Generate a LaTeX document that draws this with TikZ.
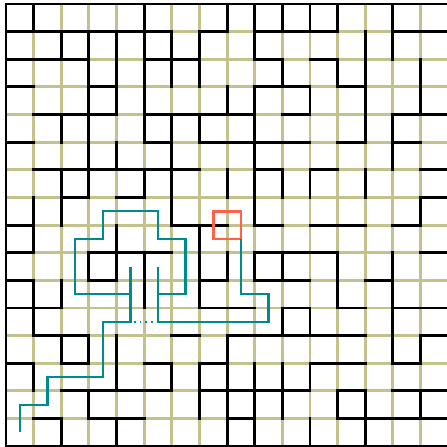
\documentclass[tikz,border=0pt]{standalone}
\usepackage{xcolor}
\usepackage{tikz}
\usetikzlibrary{calc}
\definecolor{gridkhaki}{RGB}{196,194,140}
\definecolor{routeteal}{RGB}{0,139,139}
\definecolor{goalred}{RGB}{255,99,71}

\begin{document}
\begin{tikzpicture}[x=1cm, y=1cm,
  gridline/.style={gridkhaki, line width=3pt},
  wall/.style={black, line width=3pt, line cap=rect},
  route/.style={routeteal, line width=2.4pt},
  goalbox/.style={goalred, line width=2.6pt}]
  \useasboundingbox (-0.217,-0.03) rectangle (15.94,16.145);
  % 底层网格
  \draw[gridline] (0,0) grid (16,16);
  \draw[wall] (0,0) rectangle (16,16);
  % 横墙：行号(自上而下) / 列
  \foreach \r/\cs in {1/{0,1,2,3,4,5,7,9,10,11,14,15},
                      2/{0,1,2,5,6,9,11},
                      3/{0,3,9,10,12},
                      4/{1,2,3,5,6,7,8,10,14,15},
                      5/{0,5,7,8,9,10,12,14},
                      6/{1,2,3,4,5,6,9,11,15},
                      7/{2,4,15},
                      8/{0,6,7,9,11,12,14},
                      9/{0,3,4,5,9,10,11,15},
                      10/{0,3,7,9,10,13},
                      11/{0,1,7,8,10,12,14,15},
                      12/{1,2,6,8,9,10,11,12,15},
                      13/{0,2,5,7,11,12,14},
                      14/{2,3,4,5,7,8,9,10,12,14,15},
                      15/{1,3,4,8,12,13,14,15}} {
    \foreach \c in \cs {
      \draw[wall] (\c,16-\r) -- (\c+1,16-\r);
    }
  }
  % 竖墙：列号 / 行(自上而下)
  \foreach \i/\rs in {1/{0,7,8,10,11,13},
                      2/{1,4,6,7,10,12,15},
                      3/{1,2,3,4,5,6,9,12,14},
                      4/{1,2,3,5,8,9,12,13,15},
                      5/{0,1,2,3,4,6,9,10},
                      6/{1,2,4,5,6,7,13},
                      7/{1,2,4,8,9,10,13,14},
                      8/{0,3,6,9,12,13,14,15},
                      9/{0,1,3,4,5,6,7,9,13,14,15},
                      10/{0,2,6,9,11,13,14},
                      11/{0,3,6,11,13,15},
                      12/{0,2,9,10,14},
                      13/{1,2,3,4,6,14,15},
                      14/{0,1,4,5,9,10,11,12},
                      15/{2,3,7,12,14}} {
    \foreach \r in \rs {
      \draw[wall] (\i,15-\r) -- (\i,16-\r);
    }
  }
  % 目标格
  \coordinate (goal) at (8,8);
  \draw[goalbox] ($(goal)+(-0.5,-0.5)$) rectangle ($(goal)+(0.5,0.5)$);
  % 搜索路径
  \draw[route] (8.5,7.5) -- (8.5,5.5) -- (9.5,5.5) -- (9.5,4.5)
               -- (5.5,4.5) -- (5.5,6.5);
  \draw[route] (5.5,5.5) -- (6.5,5.5) -- (6.5,7.5) -- (5.5,7.5)
               -- (5.5,8.5) -- (3.5,8.5) -- (3.5,7.5) -- (2.5,7.5)
               -- (2.5,5.5) -- (4.5,5.5) -- (4.5,6.5);
  \draw[route] (4.5,5.5) -- (4.5,4.5) -- (3.5,4.5) -- (3.5,2.5)
               -- (1.5,2.5) -- (1.5,1.5) -- (0.5,1.5) -- (0.5,0.5);
  \draw[route, dash pattern=on 2pt off 4pt] (4.62,4.5) -- (5.4,4.5);
\end{tikzpicture}
\end{document}
